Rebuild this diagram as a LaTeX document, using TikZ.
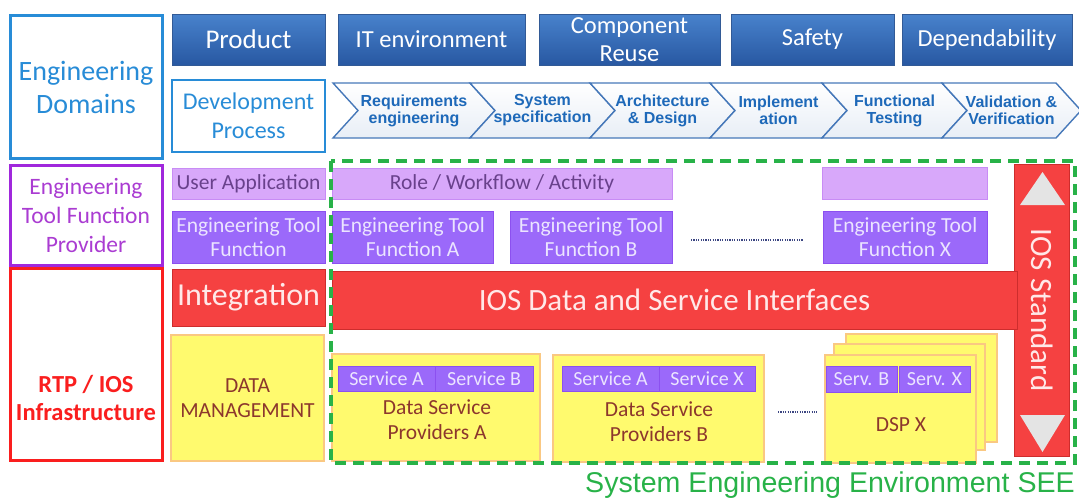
\documentclass[tikz,border=0pt]{standalone}
\usepackage{fontspec}
\setmainfont{Carlito}
\newfontfamily\arialfont{Liberation Sans}
\definecolor{topblueA}{RGB}{72,130,204}
\definecolor{topblueB}{RGB}{40,88,162}
\definecolor{topline}{RGB}{50,90,150}
\definecolor{domblue}{RGB}{40,140,215}
\definecolor{chevline}{RGB}{70,120,185}
\definecolor{chevfill}{RGB}{232,238,246}
\definecolor{chevtext}{RGB}{30,105,185}
\definecolor{provpurple}{RGB}{160,40,220}
\definecolor{provtext}{RGB}{170,60,210}
\definecolor{lilacfill}{RGB}{216,168,250}
\definecolor{lilacline}{RGB}{200,140,245}
\definecolor{lilactext}{RGB}{105,65,140}
\definecolor{toolfill}{RGB}{155,105,250}
\definecolor{toolline}{RGB}{140,80,240}
\definecolor{tooltext}{RGB}{235,228,255}
\definecolor{redfill}{RGB}{245,65,65}
\definecolor{redline}{RGB}{205,45,45}
\definecolor{redtext}{RGB}{255,232,232}
\definecolor{rtpred}{RGB}{250,30,30}
\definecolor{yelfill}{RGB}{255,250,110}
\definecolor{yelline}{RGB}{250,200,130}
\definecolor{yeltext}{RGB}{140,55,45}
\definecolor{seegreen}{RGB}{40,178,72}
\definecolor{trigray}{RGB}{228,228,228}
\definecolor{dotcol}{RGB}{60,70,130}
\newcommand{\fsz}[2]{\fontsize{#1}{#2}\selectfont}

\begin{document}
\begin{tikzpicture}[x=1pt,y=1pt,yscale=-1,
  every node/.style={inner sep=0pt, align=center},
  topbox/.style={draw=topline, line width=0.8pt, top color=topblueA, bottom color=topblueB, text=white, minimum height=51pt, font=\fsz{24.5}{28}},
  areabox/.style={draw=domblue, line width=3pt, fill=white, text=domblue},
  chev/.style={draw=chevline, line width=1.4pt, top color=white, bottom color=chevfill},
  chevlabel/.style={text=chevtext, font=\arialfont\bfseries\fsz{16}{17}},
  lilac/.style={draw=lilacline, line width=1pt, fill=lilacfill, text=lilactext, font=\fsz{21.5}{24}},
  tool/.style={draw=toolline, line width=1pt, fill=toolfill, text=tooltext, font=\fsz{21.5}{24}},
  redbar/.style={draw=redline, line width=1pt, fill=redfill, text=redtext, font=\fsz{31}{34}},
  yellowbox/.style={draw=yelline, line width=1.2pt, fill=yelfill, text=yeltext, font=\fsz{21.5}{25}},
  service/.style={draw=toolline, line width=1pt, fill=toolfill, text=tooltext, minimum height=25pt, font=\fsz{20}{22}},
  dotline/.style={draw=dotcol, line width=1.5pt, dash pattern=on 1.2pt off 1.2pt},
  tri/.style={fill=trigray}]
\useasboundingbox (0,0) rectangle (1079,498);

% engineering domains
\node [areabox, minimum width=152pt, minimum height=143pt, font=\fsz{28}{33}] (engdom) at (86,87) {Engineering\\Domains};
\node [topbox, minimum width=153pt, font=\fsz{27}{30}] (product) at (248.5,39.5) {Product};
\node [topbox, minimum width=187pt] (itenv) at (431.5,39.5) {IT environment};
\node [topbox, minimum width=181pt] (reuse) at (629.5,39.5) {Component\\Reuse};
\node [topbox, minimum width=163pt] (safety) at (812.5,39.5) {Safety};
\node [topbox, minimum width=170pt] (depend) at (987,39.5) {Dependability};
\node [areabox, line width=2.5pt, minimum width=153pt, minimum height=72pt, font=\fsz{24}{29}] (devproc) at (248.5,116) {Development\\Process};

% process chain
\foreach \a/\b/\n/\txt in {333/470/1/{Requirements\\engineering}, 470/590/2/{System\\specification}, 590/710/3/{Architecture\\\& Design}, 710/822/4/{Implement\\ation}, 822/942/5/{Functional\\Testing}, 942/1056/6/{Validation \&\\Verification}}
{
  \draw [chev] (\a,83) -- (\b,83) -- (\b+25,110.5) -- (\b,138) -- (\a,138) -- (\a+25,110.5) -- cycle;
  \node [chevlabel] (step\n) at ({(\a+\b+25)/2},110.5) {\txt};
}

% tool function provider
\node [areabox, draw=provpurple, text=provtext, minimum width=152pt, minimum height=100pt, font=\fsz{23.5}{29}] (etfp) at (86,215) {Engineering\\Tool Function\\Provider};
\node [lilac, minimum width=153pt, minimum height=31pt] (userapp) at (248.5,183.5) {User Application};
\node [lilac, minimum width=340pt, minimum height=31pt] (role) at (502,183.5) {Role / Workflow / Activity};
\node [lilac, minimum width=165pt, minimum height=32pt] (roleX) at (904.5,183.5) {};
\node [tool, minimum width=153pt, minimum height=52pt] (etf) at (248.5,237) {Engineering Tool\\Function};
\node [tool, minimum width=161pt, minimum height=52pt] (etfA) at (412.5,237) {Engineering Tool\\Function A};
\node [tool, minimum width=162pt, minimum height=52pt] (etfB) at (591,237) {Engineering Tool\\Function B};
\node [tool, minimum width=164pt, minimum height=52pt] (etfX) at (905,237) {Engineering Tool\\Function X};
\coordinate (etfdotsL) at (691,240);
\coordinate (etfdotsR) at (803,240);
\draw [dotline] (etfdotsL) -- (etfdotsR);

% infrastructure
\node [areabox, draw=rtpred, minimum width=152pt, minimum height=192pt] (rtp) at (86,364) {};
\node [text=rtpred, font=\bfseries\fsz{24.5}{28}] (rtplabel) at (86,398) {RTP / IOS\\Infrastructure};
\node [redbar, minimum width=153pt, minimum height=57pt, font=\fsz{32}{34}] (integ) at (248.5,297.5) {Integration};
\node [redbar, minimum width=55pt, minimum height=292pt] (iosstd) at (1041.5,310) {};
\fill [tri] (1020,205) -- (1065,205) -- (1042.5,172) -- cycle;
\fill [tri] (1020,415) -- (1065,415) -- (1042.5,452) -- cycle;
\node [rotate=-90, text=redtext, font=\fsz{31}{34}] (iosstdlabel) at (1042,310) {IOS Standard};
\node [redbar, minimum width=685pt, minimum height=58pt] (iosdsi) at (674.5,300) {IOS Data and Service Interfaces};

% data layer
\node [yellowbox, minimum width=153pt, minimum height=126pt] (datamgmt) at (247.5,398) {DATA\\MANAGEMENT};
\node [yellowbox, minimum width=208pt, minimum height=107pt] (dspA) at (436,407.5) {};
\node [service, minimum width=97pt] (dspAsA) at (386.5,378.5) {Service A};
\node [service, minimum width=98pt] (dspAsB) at (484,378.5) {Service B};
\node [text=yeltext, font=\fsz{21.5}{25}] (dspAlabel) at (437,420) {Data Service\\Providers A};
\node [yellowbox, minimum width=211pt, minimum height=107pt] (dspB) at (658.5,408.5) {};
\node [service, minimum width=97pt] (dspBsA) at (610.5,379) {Service A};
\node [service, minimum width=96pt] (dspBsX) at (707,379) {Service X};
\node [text=yeltext, font=\fsz{21.5}{25}] (dspBlabel) at (659,422) {Data Service\\Providers B};
\coordinate (dspdotsL) at (778,412);
\coordinate (dspdotsR) at (817,412);
\draw [dotline] (dspdotsL) -- (dspdotsR);
\node [yellowbox, minimum width=151pt, minimum height=108pt] (dspXback) at (921.5,388) {};
\node [yellowbox, minimum width=151pt, minimum height=106pt] (dspXmid) at (909.5,397) {};
\node [yellowbox, minimum width=151pt, minimum height=108pt] (dspX) at (900.5,409) {};
\node [service, minimum width=71pt, minimum height=26pt] (dspXsB) at (861.5,379) {Serv. B};
\node [service, minimum width=71pt, minimum height=26pt] (dspXsX) at (934.5,379) {Serv. X};
\node [text=yeltext, font=\fsz{21.5}{25}] (dspXlabel) at (901,425) {DSP X};

% system engineering environment
\draw [seegreen, line width=3.5pt, dash pattern=on 11pt off 7pt] (331,161) rectangle (1075,463);
\node [anchor=base east, text=seegreen, font=\arialfont\fsz{28.6}{30}] (seelabel) at (1075,492) {System Engineering Environment SEE};
\end{tikzpicture}
\end{document}
